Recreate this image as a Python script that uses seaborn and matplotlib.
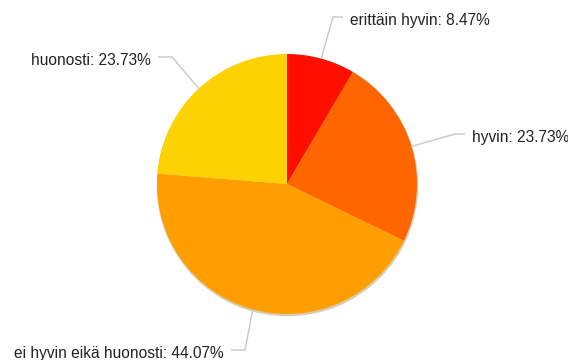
import numpy as np
import matplotlib
matplotlib.use("Agg")
import matplotlib.pyplot as plt
import seaborn as sns

# Survey answers and their shares (%)
categories = ["erittäin hyvin", "hyvin", "ei hyvin eikä huonosti", "huonosti"]
shares = [8.47, 23.73, 44.07, 23.73]
slice_colors = ["#FF0F00", "#FF6600", "#FF9E01", "#FCD202"]

sns.set_theme(style="white")
plt.rcParams["font.family"] = ["Liberation Sans", "DejaVu Sans"]

W, H = 568, 360
fig = plt.figure(figsize=(W / 100, H / 100), dpi=100)
ax = fig.add_axes([0, 0, 1, 1])

cx, cy, r = 287, H - 184, 130

# soft drop shadow beneath the pie
shadow = plt.Circle((cx + 0.5, cy - 1.5), r + 0.8, color="#7a5a00", alpha=0.3, lw=0, zorder=1)
ax.add_patch(shadow)

wedges, _ = ax.pie(shares, colors=slice_colors, startangle=90, counterclock=False,
                   center=(cx, cy), radius=r, frame=True,
                   wedgeprops=dict(linewidth=0, zorder=2))
ax.set_xlim(0, W)
ax.set_ylim(0, H)
ax.set_aspect("equal")
ax.axis("off")

# label placement: (elbow x, elbow y from top, side)
label_layout = [(333, 17, "right"), (455, 134, "right"), (245, 350, "left"), (172, 57, "left")]

for w, name, val, (ex, ey, side) in zip(wedges, categories, shares, label_layout):
    mid = np.deg2rad((w.theta1 + w.theta2) / 2)
    px, py = cx + r * np.cos(mid), cy + r * np.sin(mid)
    ey = H - ey
    if side == "right":
        hx, tx, ha = ex + 10, ex + 17, "left"
    else:
        hx, tx, ha = ex - 14, ex - 21, "right"
    ax.plot([px, ex, hx], [py, ey, ey], color="#c8c8c8", lw=1.0, zorder=3,
            solid_capstyle="butt")
    ax.text(tx, ey - 8, f"{name}: {val:.2f}%", ha=ha, va="baseline",
            fontsize=11.2, color="#222222", zorder=4)

fig.savefig("out.png", dpi=100, facecolor="white")
